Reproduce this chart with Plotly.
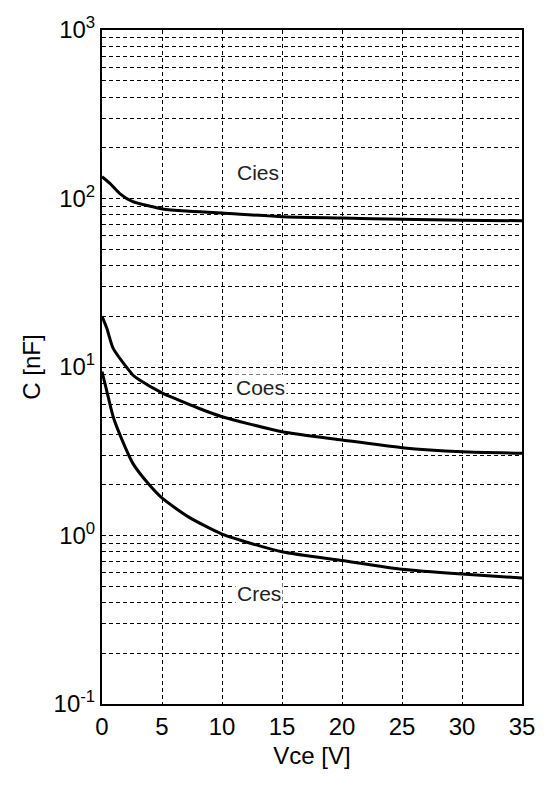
import math
import plotly.graph_objects as go

# Data
vce_cies = [0, 0.66, 1.48, 2.57, 3.94, 5.04, 7, 10, 15, 20, 25, 30, 35]
cies = [134.7, 123, 107, 95.7, 90.2, 86.7, 84.2, 82.0, 78, 76.6, 75.2, 74.3, 73.8]

vce_coes = [0, 0.4, 0.93, 2.57, 3.1, 5.04, 6.3, 8.05, 10, 15, 20, 25, 30, 35]
coes = [20, 17, 12.9, 8.97, 8.4, 7.0, 6.4, 5.69, 5.07, 4.13, 3.69, 3.32, 3.14, 3.08]

vce_cres = [0, 0.38, 0.93, 1.62, 2.57, 3.94, 5.04, 7.2, 10, 15, 20, 25, 30, 35]
cres = [9.4, 7.3, 5.07, 3.77, 2.68, 2.0, 1.66, 1.29, 1.02, 0.80, 0.71, 0.63, 0.59, 0.56]

labels = ["Cies", "Coes", "Cres"]
label_x = [13.0, 13.2, 13.1]
label_y = [142, 7.6, 0.455]

x_ticks = [0, 5, 10, 15, 20, 25, 30, 35]
decades = [-1, 0, 1, 2, 3]

y_tickvals = []
y_ticktext = []
for d in decades:
    for m in range(1, 10):
        v = m * 10 ** d
        if v > 1000:
            break
        y_tickvals.append(v)
        y_ticktext.append(f"10<sup>{d}</sup>" if m == 1 else "")

font = "Liberation Sans, Arial, sans-serif"
fig = go.Figure()
for xs, ys in [(vce_cies, cies), (vce_coes, coes), (vce_cres, cres)]:
    fig.add_trace(go.Scatter(x=xs, y=ys, mode="lines",
                             line=dict(color="black", width=3, shape="spline", smoothing=0.6),
                             showlegend=False, hoverinfo="skip"))

for t, x, y in zip(labels, label_x, label_y):
    fig.add_annotation(x=x, y=math.log10(y), yref="y", xref="x", text=t, showarrow=False,
                       bgcolor="white", font=dict(family=font, size=21, color="#222"))

fig.update_layout(
    width=547, height=787,
    margin=dict(l=102, r=19, t=30, b=83),
    paper_bgcolor="white", plot_bgcolor="white",
    font=dict(family=font, color="black"),
)
fig.update_xaxes(
    range=[0, 35], tickvals=x_ticks, ticktext=[str(v) for v in x_ticks],
    showgrid=True, gridcolor="black", gridwidth=1, griddash="4px,3px",
    showline=True, linecolor="black", linewidth=2, mirror=True,
    ticks="", tickfont=dict(size=24), zeroline=False,
    title=dict(text="Vce [V]", font=dict(size=24), standoff=8),
)
fig.update_yaxes(
    type="log", range=[-1, 3], tickvals=y_tickvals, ticktext=y_ticktext,
    showgrid=True, gridcolor="black", gridwidth=1, griddash="4px,3px",
    showline=True, linecolor="black", linewidth=2, mirror=True,
    ticks="", tickfont=dict(size=24), zeroline=False,
    title=dict(text="C [nF]", font=dict(size=24), standoff=6),
)

fig.write_html("out.html")
